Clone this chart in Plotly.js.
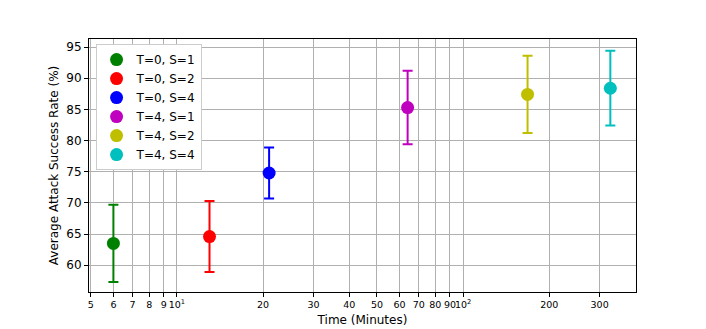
<!DOCTYPE html>
<html>
<head>
<meta charset="utf-8">
<script src="https://cdn.plot.ly/plotly-3.0.1.min.js"></script>
<style>
  body { margin: 0; background: #fff; }
  #chart { width: 706px; height: 329px; }
</style>
</head>
<body>
<div id="chart"></div>
<script>
// series
const labels = ['T=0, S=1', 'T=0, S=2', 'T=0, S=4', 'T=4, S=1', 'T=4, S=2', 'T=4, S=4'];
const times = [6, 13, 21, 64, 168, 327];
const rates = [63.5, 64.6, 74.8, 85.3, 87.4, 88.4];
const errors = [6.2, 5.7, 4.1, 5.9, 6.2, 6.0];
const colors = ['#008000', '#ff0000', '#0000ff', '#bf00bf', '#bfbf00', '#00bfbf'];

const xTickVals = [5, 6, 7, 8, 9, 10, 20, 30, 40, 50, 60, 70, 80, 90, 100, 200, 300];
const xTickText = ['5', '6', '7', '8', '9', '10<sup>1</sup>', '20', '30', '40', '50', '60', '70', '80', '90', '10<sup>2</sup>', '200', '300'];

const traces = labels.map(function (name, i) {
  return {
    x: [times[i]],
    y: [rates[i]],
    name: name,
    type: 'scatter',
    mode: 'markers',
    marker: { color: colors[i], size: 13 },
    error_y: { type: 'data', array: [errors[i]], visible: true, color: colors[i], thickness: 2, width: 5 }
  };
});

const font = '"DejaVu Sans", Verdana, sans-serif';

const layout = {
  width: 706,
  height: 329,
  margin: { l: 89, r: 70, t: 39, b: 37 },
  paper_bgcolor: '#fff',
  plot_bgcolor: '#fff',
  font: { family: font, size: 11, color: '#000' },
  showlegend: true,
  legend: {
    x: 0.012, y: 0.98, xanchor: 'left', yanchor: 'top',
    bgcolor: '#fff', bordercolor: '#cccccc', borderwidth: 1,
    font: { family: font, size: 12 }, tracegroupgap: 0
  },
  xaxis: {
    type: 'log',
    range: [Math.log10(4.93), Math.log10(402)],
    tickvals: xTickVals,
    ticktext: xTickText,
    tickangle: 0,
    ticks: 'outside', ticklen: 4, tickcolor: '#000',
    showgrid: true, gridcolor: '#b0b0b0', gridwidth: 1,
    showline: true, linecolor: '#000', linewidth: 1, mirror: true,
    zeroline: false,
    tickfont: { family: font, size: 9.5 },
    title: { text: 'Time (Minutes)', font: { family: font, size: 12 }, standoff: 6 }
  },
  yaxis: {
    range: [55.7, 96.3],
    dtick: 5,
    ticks: 'outside', ticklen: 4, tickcolor: '#000',
    showgrid: true, gridcolor: '#b0b0b0', gridwidth: 1,
    showline: true, linecolor: '#000', linewidth: 1, mirror: true,
    zeroline: false,
    tickfont: { family: font, size: 12 },
    title: { text: 'Average Attack Success Rate (%)', font: { family: font, size: 12 }, standoff: 5 }
  }
};

Plotly.newPlot('chart', traces, layout, { displayModeBar: false, staticPlot: true });
</script>
</body>
</html>
